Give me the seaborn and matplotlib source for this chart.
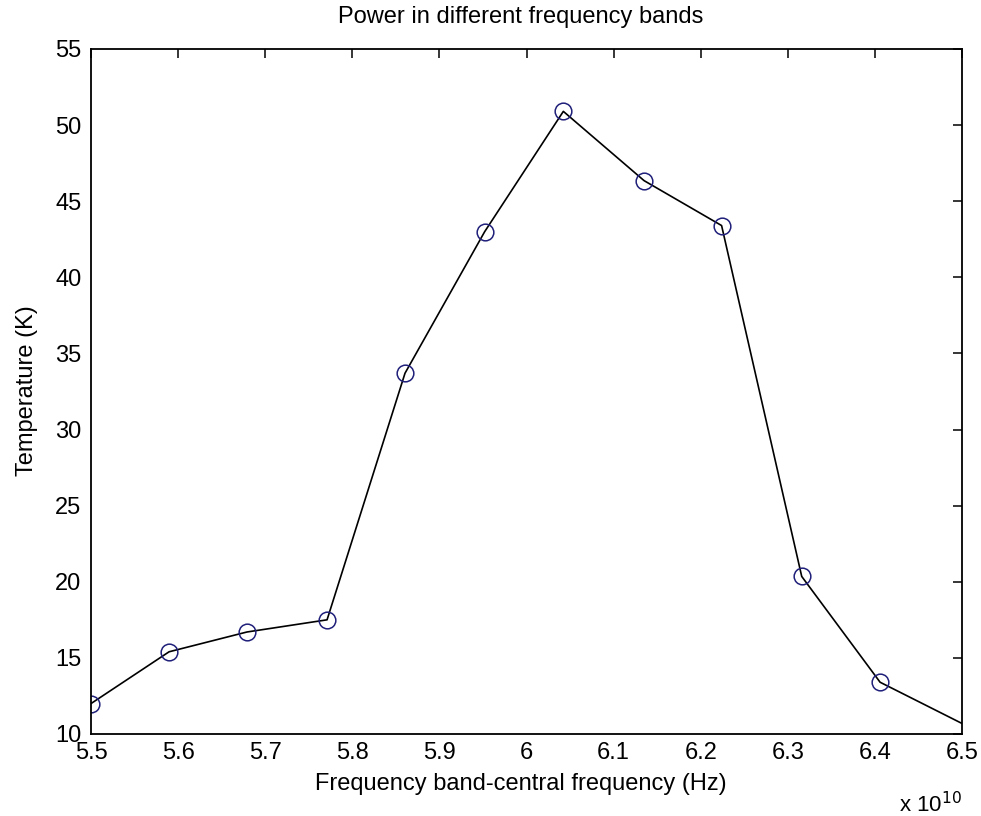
import seaborn as sns
import matplotlib.pyplot as plt
import matplotlib.ticker as mticker
import pandas as pd

# band centres (Hz) and measured temperature (K); last point lies past the x-limit
freq_hz = [5.5000e10, 5.5896e10, 5.6790e10, 5.7710e10, 5.8605e10, 5.9520e10,
           6.0423e10, 6.1350e10, 6.2240e10, 6.3160e10, 6.4060e10, 6.5900e10]
temp_k = [12.0, 15.4, 16.7, 17.5, 33.7, 43.0, 50.9, 46.35, 43.4, 20.35, 13.4, 8.1]

x_ticks = [5.5e10, 5.6e10, 5.7e10, 5.8e10, 5.9e10, 6.0e10, 6.1e10, 6.2e10, 6.3e10, 6.4e10, 6.5e10]
y_ticks = [10, 15, 20, 25, 30, 35, 40, 45, 50, 55]

sns.set_style("white")
plt.rcParams['font.family'] = ['Liberation Sans', 'DejaVu Sans']
plt.rcParams['text.color'] = 'black'

df = pd.DataFrame({"freq": freq_hz, "temp": temp_k})

fig = plt.figure(figsize=(9.81, 8.16), dpi=100)
ax = fig.add_axes([0.0928, 0.1005, 0.8878, 0.8395])

sns.lineplot(data=df, x="freq", y="temp", ax=ax, color='black', linewidth=1.2,
             marker='o', markersize=12, markerfacecolor='none',
             markeredgecolor='#20207a', markeredgewidth=1.1)

ax.set_xlim(5.5e10, 6.5e10)
ax.set_ylim(10, 55)
ax.set_xticks(x_ticks)
ax.set_yticks(y_ticks)
ax.xaxis.set_major_formatter(mticker.FuncFormatter(lambda v, p: "%g" % round(v / 1e10, 2)))
ax.set_xlabel("")
ax.set_ylabel("")

ax.tick_params(direction='in', length=6.5, width=1.1, top=True, right=True,
               labelsize=17, colors='black')
ax.tick_params(axis='x', pad=6)
ax.tick_params(axis='y', pad=7)
for s in ax.spines.values():
    s.set_color('black')
    s.set_linewidth(1.3)

fig.text(0.531, 1 - 17 / 816, "Power in different frequency bands", fontsize=17,
         ha='center', va='center')
fig.text(0.531, 1 - 784 / 816, "Frequency band-central frequency (Hz)", fontsize=17,
         ha='center', va='center')
fig.text(27 / 981, 1 - 391 / 816, "Temperature (K)", fontsize=17, rotation=90,
         ha='center', va='center')
fig.text(962 / 981, 1 - 812 / 816, r"x 10$^{10}$", fontsize=16, ha='right', va='baseline')

fig.savefig("out.png", dpi=100, facecolor='white')
